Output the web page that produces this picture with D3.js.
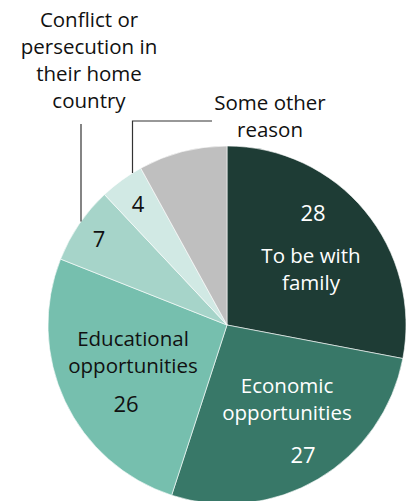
<!DOCTYPE html>
<html>
<head>
<meta charset="utf-8">
<script src="https://cdn.jsdelivr.net/npm/d3@7"></script>
<style>
  html, body { margin: 0; padding: 0; background: #fff; }
  svg { display: block; font-family: "Open Sans", "Liberation Sans", sans-serif; }
</style>
</head>
<body>
<svg id="chart" width="408" height="501"></svg>
<script>
// Reasons for coming, share in percent (clockwise from 12 o'clock)
const categories = [
  "To be with family",
  "Economic opportunities",
  "Educational opportunities",
  "Conflict or persecution in their home country",
  "Some other reason"
];
const values = [28, 27, 26, 7, 4, 8];
const shownValues = ["28", "27", "26", "7", "4", ""];

const colors = ["#1e3c35", "#387868", "#76bfae", "#a6d4c9", "#d1e9e4", "#bfbfbf"];

const svg = d3.select("#chart");
const cx = 227, cy = 325, R = 179;

const pie = d3.pie().sort(null).value(d => d)(values);
const arc = d3.arc().innerRadius(0).outerRadius(R);

const g = svg.append("g").attr("transform", `translate(${cx},${cy})`);

g.selectAll("path.slice")
  .data(pie)
  .join("path")
  .attr("class", "slice")
  .attr("d", arc)
  .attr("fill", (d, i) => colors[i])
  .attr("stroke", "#ffffff")
  .attr("stroke-width", 0.6);

const fs = 20.5;
const numFs = 22;
const lh = 27;

// Text blocks: label lines or a value, with colours per slice
function block(x, lines, y0, fill, size) {
  const t = svg.append("text")
    .attr("text-anchor", "middle")
    .attr("font-size", size || fs)
    .attr("fill", fill);
  lines.forEach((ln, k) => {
    t.append("tspan").attr("x", x).attr("y", y0 + k * lh).text(ln);
  });
}

// Inside labels
block(313, [shownValues[0]], 221, "#ffffff", numFs);
block(311, ["To be with", "family"], 263, "#ffffff");

block(287, ["Economic", "opportunities"], 393, "#ffffff");
block(303, [shownValues[1]], 463, "#ffffff", numFs);

block(133, ["Educational", "opportunities"], 346, "#111111");
block(126, [shownValues[2]], 412, "#111111", numFs);

block(99, [shownValues[3]], 247, "#111111", numFs);
block(138, [shownValues[4]], 212, "#111111", numFs);

// Outside labels
block(89, ["Conflict or", "persecution in", "their home", "country"], 27, "#111111");
block(270, ["Some other", "reason"], 110, "#111111");

// Leader lines
const edgeY = x => cy - Math.sqrt(R * R - (x - cx) * (x - cx));
svg.append("path")
  .attr("d", `M81,124 V${edgeY(81)}`)
  .attr("fill", "none").attr("stroke", "#333").attr("stroke-width", 1.2);
svg.append("path")
  .attr("d", `M212,121 H132.5 V${edgeY(132.5)}`)
  .attr("fill", "none").attr("stroke", "#333").attr("stroke-width", 1.2);
</script>
</body>
</html>
